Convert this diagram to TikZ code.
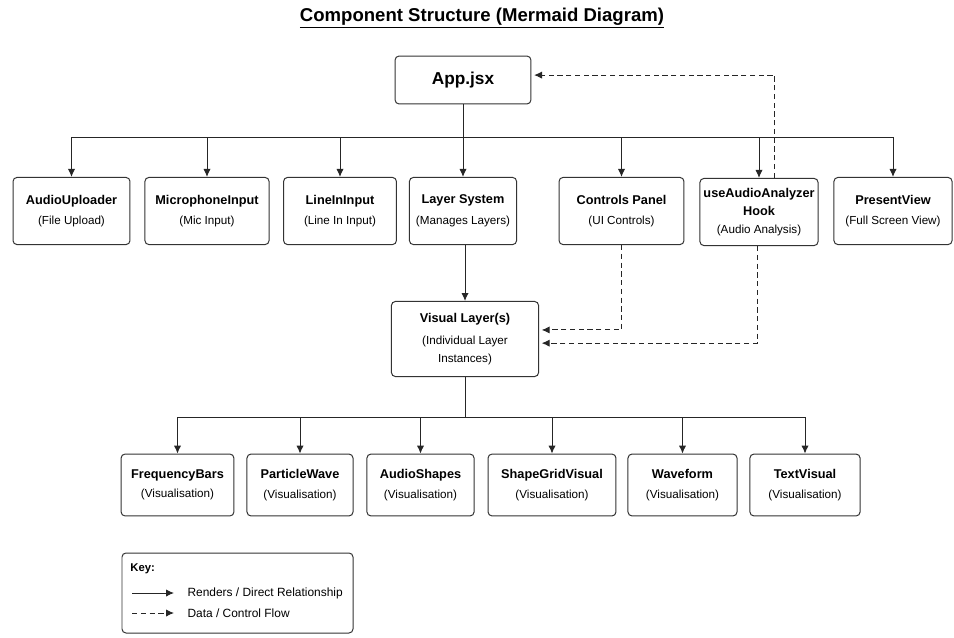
\documentclass[tikz,border=0pt]{standalone}
\usepackage{fontspec}
\setmainfont{Liberation Sans}
\usepackage{tikz}
\usetikzlibrary{positioning, arrows.meta}

\newcommand{\cname}[1]{{\fontsize{9.6}{12}\selectfont\bfseries #1}}
\newcommand{\csub}[1]{{\fontsize{8.8}{12}\selectfont #1}}

\begin{document}
\begin{tikzpicture}[
    x=0.0265cm, y=-0.0265cm,
    >={Latex[length=6pt,width=5.5pt]}, line width=0.75pt,
    comp/.style={draw=black!80, rounded corners=3pt, align=center, fill=white,
        font=\fontsize{9}{13.5}\selectfont, inner sep=1pt},
    rowone/.style={comp, minimum height=1.78cm},
    rowtwo/.style={comp, minimum height=1.64cm},
    render/.style={->, draw=black!85},
    flow/.style={->, draw=black!85, dash pattern=on 4pt off 2.6pt}
]
\useasboundingbox (0,0) rectangle (954,637);

% title
\node (title) at (482,18) {\fontsize{14}{16}\selectfont\bfseries\underline{Component Structure (Mermaid Diagram)}};

% root
\node[comp, minimum width=3.60cm, minimum height=1.27cm] (app) at (463,80) {\fontsize{13}{15}\selectfont\bfseries App.jsx};

% first row
\node[rowone, minimum width=3.10cm] (au)   at (71.5,211)  {\cname{AudioUploader}\\[2pt]\csub{(File Upload)}};
\node[rowone, minimum width=3.29cm] (mic)  at (207,211)   {\cname{MicrophoneInput}\\[2pt]\csub{(Mic Input)}};
\node[rowone, minimum width=2.99cm] (li)   at (340,211)   {\cname{LineInInput}\\[2pt]\csub{(Line In Input)}};
\node[rowone, minimum width=2.84cm] (ls)   at (463,211)   {\cname{Layer System}\\[2pt]\csub{(Manages Layers)}};
\node[rowone, minimum width=3.31cm] (cp)   at (621.5,211) {\cname{Controls Panel}\\[2pt]\csub{(UI Controls)}};
\node[rowone, minimum width=3.13cm] (hook) at (759,212)   {\cname{useAudioAnalyzer}\\\cname{Hook}\\\csub{(Audio Analysis)}};
\node[rowone, minimum width=3.13cm] (pv)   at (893,211)   {\cname{PresentView}\\[2pt]\csub{(Full Screen View)}};

% layer instances
\node[comp, minimum width=3.90cm, minimum height=1.99cm] (vl) at (465,339)
    {\cname{Visual Layer(s)}\\[3pt]\csub{(Individual Layer}\\\csub{Instances)}};

% second row
\node[rowtwo, minimum width=2.99cm] (fb)  at (177.5,485) {\cname{FrequencyBars}\\[1pt]\csub{(Visualisation)}};
\node[rowtwo, minimum width=2.81cm] (pw)  at (300,485)   {\cname{ParticleWave}\\[1pt]\csub{(Visualisation)}};
\node[rowtwo, minimum width=2.84cm] (as)  at (420.5,485) {\cname{AudioShapes}\\[1pt]\csub{(Visualisation)}};
\node[rowtwo, minimum width=3.39cm] (sg)  at (552,485)   {\cname{ShapeGridVisual}\\[1pt]\csub{(Visualisation)}};
\node[rowtwo, minimum width=2.89cm] (wf)  at (682.5,485) {\cname{Waveform}\\[1pt]\csub{(Visualisation)}};
\node[rowtwo, minimum width=2.92cm] (tv)  at (805,485)   {\cname{TextVisual}\\[1pt]\csub{(Visualisation)}};

% render tree
\coordinate (busA) at (463,137);
\draw[draw=black!85] (app) -- (busA);
\foreach \n in {au, mic, li, cp, hook, pv}
    \draw[render] (busA) -| (\n);
\draw[render] (busA) -- (ls);
\draw[render] (ls.south -| vl.north) -- (vl);

\coordinate (busB) at (465,417);
\draw[draw=black!85] (vl) -- (busB);
\foreach \n in {fb, pw, as, sg, wf, tv}
    \draw[render] (busB) -| (\n);

% data flow
\draw[flow] ([xshift=0.42cm]hook.north) |- ([yshift=0.13cm,xshift=2pt]app.east);
\draw[flow] (cp.south) |- ([yshift=0.24cm,xshift=2pt]vl.east);
\draw[flow] ([xshift=-0.05cm]hook.south) |- ([yshift=-0.11cm,xshift=2pt]vl.east);

% key
\draw[draw=black!80, rounded corners=3pt] (122,553) rectangle (353,633);
\node[anchor=west, inner sep=0pt] (keytitle) at (130,569) {\fontsize{8.5}{10}\selectfont\bfseries Key:};
\coordinate (solidA) at (132,593);
\coordinate (solidB) at (174,593);
\coordinate (dashA) at (132,613);
\coordinate (dashB) at (174,613);
\draw[render] (solidA) -- (solidB);
\draw[flow] (dashA) -- (dashB);
\node[anchor=west, inner sep=0pt] (keyrender) at (187,593) {\fontsize{9}{10}\selectfont Renders / Direct Relationship};
\node[anchor=west, inner sep=0pt] (keyflow) at (187,613) {\fontsize{9}{10}\selectfont Data / Control Flow};
\end{tikzpicture}
\end{document}
